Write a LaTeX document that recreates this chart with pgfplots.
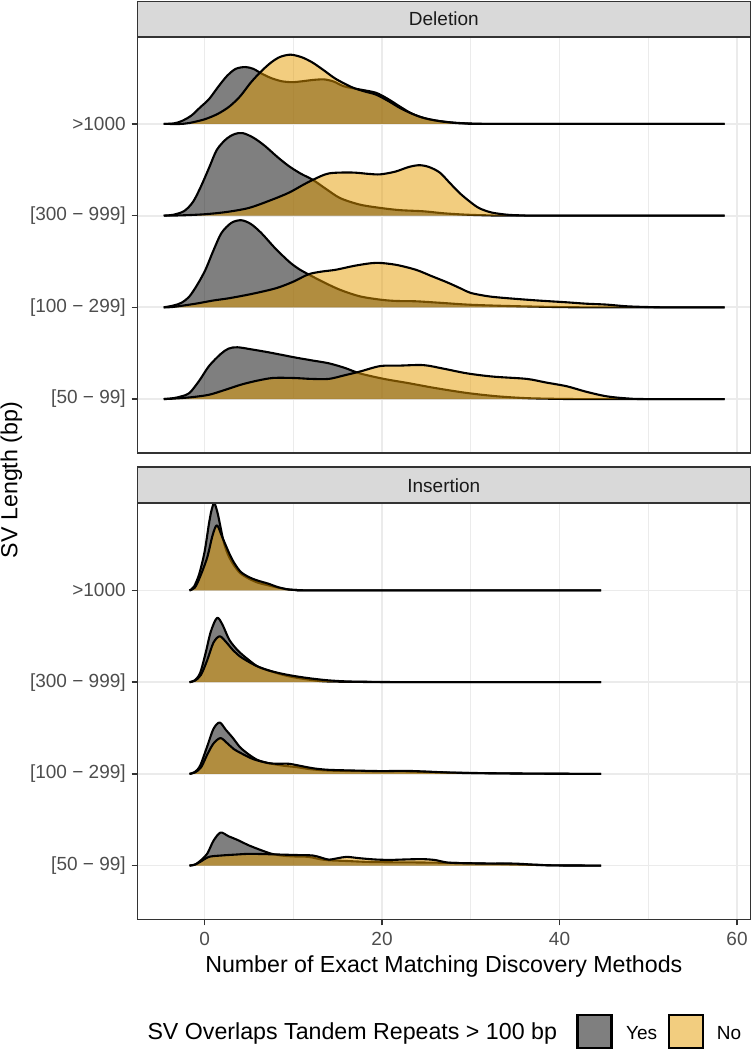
\documentclass[border=0pt]{standalone}
\usepackage{fontspec}
\setmainfont{Liberation Sans}
\usepackage{pgfplots}
\pgfplotsset{compat=1.18}
\definecolor{gridc}{HTML}{EBEBEB}
\definecolor{tickc}{HTML}{333333}
\definecolor{labc}{HTML}{4D4D4D}
\definecolor{stripc}{HTML}{D9D9D9}
\definecolor{stript}{HTML}{1A1A1A}
\definecolor{gold}{HTML}{E59B00}
\newcommand{\smallf}{\fontsize{19bp}{22bp}\selectfont}
\newcommand{\bigf}{\fontsize{23.2bp}{27bp}\selectfont}
\pgfplotsset{
  ridgeaxis/.style={
    scale only axis, width=613bp, height=416.4bp,
    xmin=-7.58, xmax=61.5, ymin=0.41, ymax=4.95,
    xtick={0,20,40,60}, minor xtick={10,30,50},
    xticklabels={0,20,40,60},
    ytick={1,2,3,4},
    yticklabels={{[50 − 99]},{[100 − 299]},{[300 − 999]},{>1000}},
    grid=both,
    major grid style={draw=gridc, line width=1.8bp},
    minor grid style={draw=gridc, line width=1bp},
    tick align=outside, xtick pos=bottom, ytick pos=left,
    major tick length=5.6bp, minor tick length=0pt,
    tick style={draw=tickc, line width=1.6bp},
    axis line style={draw=tickc, line width=1.6bp},
    yticklabel style={font=\smallf, text=labc, inner sep=0pt, xshift=-5.8bp},
    xticklabel style={font=\smallf, text=labc, inner sep=0pt, yshift=-7bp},
  },
  yes/.style={fill=black, fill opacity=0.5, draw=black, line width=2.1bp, smooth, tension=0.5, mark=none, line join=round},
  no/.style={fill=gold, fill opacity=0.5, draw=black, line width=2.1bp, smooth, tension=0.5, mark=none, line join=round},
}
\begin{document}
\begin{tikzpicture}[x=1bp,y=1bp]
% ---------------- Deletion ----------------
\begin{axis}[ridgeaxis, name=del, at={(443.8bp,805bp)}, anchor=center,
  xticklabels={}, xtick style={draw=none}]
\addplot[yes] coordinates {(-4.6,4) (-3.5,4.005) (-2.6,4.03) (-1.5,4.09) (-0.5,4.18) (0.5,4.27) (1.5,4.40) (2.5,4.52) (3.5,4.60) (4.6,4.62) (5.5,4.60) (6.4,4.55) (7.5,4.50) (8.7,4.465) (9.9,4.455) (11,4.465) (12.3,4.48) (13.5,4.485) (14.6,4.46) (15.7,4.41) (17.5,4.375) (19.3,4.34) (20.7,4.27) (22,4.19) (23.2,4.12) (24.2,4.08) (25.5,4.045) (27.4,4.02) (29,4.008) (31,4.002) (34,4) (58.6,4)};
\addplot[no] coordinates {(-4.6,4) (-2.5,4) (-1.7,4.01) (0,4.05) (1.5,4.11) (2.8,4.19) (4,4.30) (5.2,4.45) (6.4,4.575) (7.5,4.67) (8.5,4.73) (9.7,4.755) (11,4.725) (12.2,4.667) (13.5,4.58) (14.8,4.49) (16.6,4.40) (18,4.355) (19.3,4.32) (20.7,4.25) (22,4.175) (23.4,4.11) (24.7,4.065) (26.5,4.03) (28.3,4.01) (30,4.003) (32,4) (58.6,4)};
\addplot[yes] coordinates {(-4.6,3) (-3.5,3.01) (-2.3,3.05) (-1.3,3.15) (-0.4,3.32) (0.5,3.52) (1.4,3.72) (2.5,3.84) (3.4,3.89) (4.3,3.90) (5.5,3.85) (6.8,3.76) (8.2,3.64) (9.5,3.54) (10.8,3.46) (12.2,3.39) (13.7,3.29) (15.3,3.19) (17.5,3.12) (19.8,3.084) (22,3.06) (24.7,3.047) (27,3.025) (29.6,3.01) (32,3.003) (35,3) (58.6,3)};
\addplot[no] coordinates {(-4.6,3) (-2.6,3.003) (0,3.015) (2.5,3.04) (5,3.084) (7.5,3.17) (9.5,3.25) (11,3.33) (12.2,3.39) (14,3.46) (16.6,3.47) (18.5,3.455) (19.8,3.45) (21.5,3.48) (23,3.53) (24.2,3.55) (25.3,3.53) (26.5,3.47) (27.6,3.36) (28.7,3.25) (29.8,3.16) (30.9,3.084) (32.3,3.035) (34.1,3.01) (36,3.002) (38,3) (58.6,3)};
\addplot[yes] coordinates {(-4.6,2) (-3.5,2.02) (-2.6,2.05) (-1.7,2.12) (-0.8,2.25) (0.1,2.41) (1,2.62) (1.9,2.81) (3,2.92) (4.1,2.95) (5.2,2.91) (6.4,2.81) (7.9,2.65) (9.5,2.50) (10.6,2.42) (11.7,2.36) (13.5,2.27) (15.3,2.19) (17.5,2.12) (19.8,2.084) (21.5,2.07) (23.8,2.066) (26.5,2.05) (29.6,2.03) (33,2.018) (36.3,2.01) (40,2.003) (44,2) (58.6,2)};
\addplot[no] coordinates {(-4.6,2) (-3.5,2.005) (-1,2.04) (1,2.075) (2.8,2.10) (5.5,2.15) (8.1,2.21) (10,2.28) (11.7,2.36) (13.2,2.39) (14.8,2.41) (17,2.455) (19.3,2.485) (21.5,2.465) (23.8,2.41) (25.6,2.34) (27.4,2.27) (29,2.20) (30,2.157) (32,2.12) (34.1,2.10) (37.5,2.075) (40.8,2.055) (43,2.04) (45.3,2.03) (47.5,2.012) (49.7,2.004) (52,2) (58.6,2)};
\addplot[yes] coordinates {(-4.6,1) (-3.5,1.01) (-2.6,1.03) (-1.7,1.066) (-0.6,1.2) (0.5,1.36) (1.8,1.49) (2.7,1.55) (3.7,1.565) (5.4,1.54) (7.2,1.51) (8.8,1.48) (10.4,1.45) (12.2,1.42) (14,1.39) (15.8,1.34) (17.5,1.28) (20.2,1.22) (22.9,1.175) (26,1.12) (29.6,1.066) (33,1.03) (36.3,1.01) (40,1.002) (43,1) (58.6,1)};
\addplot[no] coordinates {(-4.6,1) (-3.5,1.005) (-1.5,1.02) (0.5,1.047) (2.3,1.10) (4.1,1.157) (5.9,1.20) (7.7,1.23) (10,1.23) (12,1.22) (14,1.22) (15.8,1.26) (17.5,1.30) (19.8,1.36) (22,1.365) (24.7,1.37) (27,1.33) (29.6,1.28) (32.5,1.245) (36.3,1.22) (38.5,1.18) (40.8,1.14) (43,1.08) (45.3,1.03) (47.5,1.008) (49.7,1) (58.6,1)};
\end{axis}
% ---------------- Insertion ----------------
\begin{axis}[ridgeaxis, name=ins, at={(443.8bp,338.5bp)}, anchor=center]
\addplot[yes] coordinates {(-1.7,4) (-1.2,4.04) (-0.6,4.18) (0,4.42) (0.5,4.73) (0.8,4.88) (1.1,4.95) (1.5,4.83) (2.1,4.55) (2.6,4.40) (3.2,4.29) (4,4.19) (5,4.128) (6,4.085) (7.2,4.055) (8.3,4.03) (9.5,4.01) (11,4.002) (13,4) (44.7,4)};
\addplot[no] coordinates {(-1.7,4) (-1.1,4.03) (-0.5,4.15) (0.3,4.36) (0.9,4.60) (1.4,4.71) (2,4.58) (2.8,4.40) (3.4,4.29) (4.1,4.20) (5,4.145) (5.9,4.11) (7.2,4.073) (8.3,4.035) (9.5,4.01) (11,4.002) (13,4) (44.7,4)};
\addplot[yes] coordinates {(-1.7,3) (-1.1,3.02) (-0.5,3.1) (0.1,3.31) (0.7,3.55) (1.4,3.70) (2,3.63) (2.8,3.46) (3.8,3.34) (5,3.24) (6,3.17) (7.2,3.128) (8.8,3.08) (10.4,3.047) (13,3.012) (15,3.005) (18,3.002) (22,3) (44.7,3)};
\addplot[no] coordinates {(-1.7,3) (-1.1,3.015) (-0.4,3.08) (0.3,3.24) (1,3.43) (1.7,3.50) (2.4,3.44) (3.2,3.35) (4,3.28) (5,3.22) (6,3.17) (7.2,3.128) (8.8,3.09) (10.4,3.062) (12,3.04) (13.9,3.02) (16,3.008) (19,3.003) (24,3) (44.7,3)};
\addplot[yes] coordinates {(-1.7,2) (-1.1,2.02) (-0.5,2.09) (0.3,2.30) (1,2.49) (1.7,2.56) (2.4,2.48) (3.2,2.39) (4,2.29) (5,2.21) (6,2.15) (7.2,2.117) (8.8,2.09) (10.4,2.073) (12,2.05) (14,2.036) (17,2.03) (20,2.028) (22.9,2.026) (26,2.018) (29,2.01) (31.8,2.007) (35,2.004) (40,2.001) (44.7,2)};
\addplot[no] coordinates {(-1.7,2) (-1.1,2.015) (-0.4,2.07) (0.3,2.21) (1,2.33) (1.8,2.39) (2.6,2.33) (3.3,2.27) (4.1,2.226) (5.5,2.16) (7.2,2.117) (8.3,2.11) (9.5,2.11) (10.8,2.087) (12.3,2.06) (14,2.044) (17,2.036) (20,2.03) (22.5,2.033) (25,2.025) (27.4,2.015) (30,2.01) (33,2.006) (36.3,2.003) (40,2.001) (44.7,2)};
\addplot[yes] coordinates {(-1.7,1) (-1.1,1.01) (-0.5,1.05) (0.3,1.13) (1,1.27) (1.8,1.36) (2.7,1.32) (3.7,1.28) (5,1.22) (6.4,1.167) (7.5,1.13) (8.6,1.11) (10,1.1) (11.7,1.095) (13,1.07) (14,1.058) (16,1.05) (18.4,1.04) (21,1.036) (24,1.034) (27.4,1.03) (29.5,1.026) (31.8,1.022) (34,1.016) (36.3,1.01) (38.5,1.004) (41,1.001) (44.7,1)};
\addplot[no] coordinates {(-1.7,1) (-1.1,1.01) (-0.5,1.04) (0.5,1.095) (1.9,1.11) (3.5,1.12) (5,1.128) (6.8,1.125) (8.6,1.12) (10.4,1.115) (12.2,1.11) (13.2,1.085) (14,1.065) (15,1.08) (16,1.095) (17.5,1.08) (19.3,1.066) (21,1.062) (23,1.068) (24.7,1.07) (26,1.06) (27.4,1.033) (29.5,1.025) (31.8,1.022) (34.8,1.022) (36.8,1.012) (38.6,1.004) (40.5,1.001) (44.7,1)};
\end{axis}
% strips
\draw[fill=stripc, draw=tickc, line width=1.6bp] (137.3,1013.3) rectangle (750.3,1048.5);
\node[font=\smallf, text=stript, inner sep=0pt] at (443.8,1030.9) {Deletion};
\draw[fill=stripc, draw=tickc, line width=1.6bp] (137.3,546.7) rectangle (750.3,582.8);
\node[font=\smallf, text=stript, inner sep=0pt] at (443.8,564.75) {Insertion};
% axis titles
\node[font=\bigf, anchor=base, inner sep=0pt] at (443.8,77) {Number of Exact Matching Discovery Methods};
\node[font=\bigf, anchor=base, inner sep=0pt, rotate=90] at (17.3,570) {SV Length (bp)};
% legend
\node[font=\bigf, anchor=base west, inner sep=0pt] at (147.3,10) {SV Overlaps Tandem Repeats > 100 bp};
\draw[fill=black, fill opacity=0.5, draw=black, line width=2.1bp] (577.5,1.8) rectangle (611.5,35.2);
\node[font=\smallf, anchor=base west, inner sep=0pt] at (626,10) {Yes};
\draw[fill=gold, fill opacity=0.5, draw=black, line width=2.1bp] (669,1.8) rectangle (703,35.2);
\node[font=\smallf, anchor=base west, inner sep=0pt] at (716.7,10) {No};
\pgfresetboundingbox
\useasboundingbox (0,0) rectangle (752,1050);
\end{tikzpicture}
\end{document}
